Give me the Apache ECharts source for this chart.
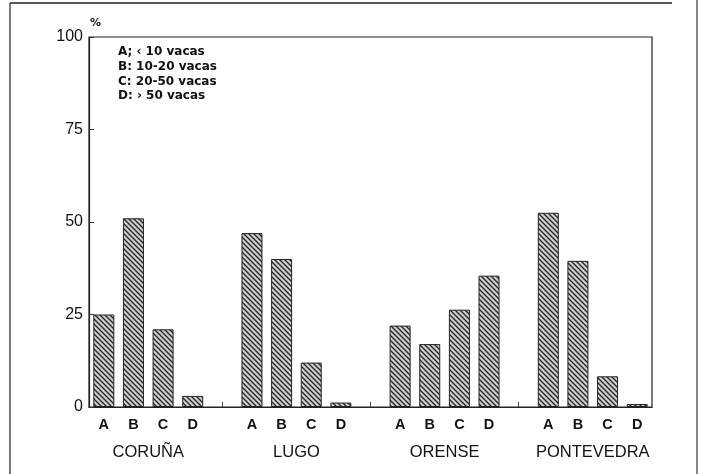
<!DOCTYPE html>
<html>
<head>
<meta charset="utf-8">
<script src="https://cdn.jsdelivr.net/npm/echarts@6/dist/echarts.min.js"></script>
<style>html,body{margin:0;padding:0;background:#fff;}#c{width:704px;height:474px;}</style>
</head>
<body>
<div id="c"></div>
<script>
// ---- data ----
var subCategories = ['A', 'B', 'C', 'D'];
var regions = ['CORUÑA', 'LUGO', 'ORENSE', 'PONTEVEDRA'];
var coruna = [25, 51, 21, 3];
var lugo = [47, 40, 12, 1.2];
var orense = [22, 17, 26.3, 35.5];
var pontevedra = [52.5, 39.5, 8.3, 0.8];
var yTicks = [0, 25, 50, 75, 100];
var legendLines = ['A; \u2039 10 vacas', 'B: 10-20 vacas', 'C: 20-50 vacas', 'D: \u203a 50 vacas'];

// ---- build axis data ----
var regionValues = [coruna, lugo, orense, pontevedra];
var cats = [], vals = [];
regionValues.forEach(function (arr, i) {
  arr.forEach(function (v, j) { cats.push(subCategories[j]); vals.push(v); });
  if (i < regionValues.length - 1) { cats.push(''); vals.push(null); }
});
// half-slot axis for region names (boundaryGap false, 2*n+1 points)
var regionAxis = [];
for (var k = 0; k < cats.length * 2 + 1; k++) regionAxis.push('');
regions.forEach(function (r, i) { regionAxis[4 + i * 10] = r; });

// hatch pattern
var pc = document.createElement('canvas');
pc.width = 5; pc.height = 5;
var ctx = pc.getContext('2d');
ctx.fillStyle = '#cfcfcf';
ctx.fillRect(0, 0, 5, 5);
ctx.strokeStyle = '#262626';
ctx.lineWidth = 1.35;
ctx.beginPath();
ctx.moveTo(-1, -1); ctx.lineTo(6, 6);
ctx.moveTo(-1, 4); ctx.lineTo(1, 6);
ctx.moveTo(4, -1); ctx.lineTo(6, 1);
ctx.stroke();

var chart = echarts.init(document.getElementById('c'), null, {renderer: 'canvas'});
var txt = '#111';
chart.setOption({
  animation: false,
  backgroundColor: '#fff',
  grid: {left: 89, right: 52, top: 37, bottom: 67, show: true, borderColor: '#222', borderWidth: 1.2, backgroundColor: 'transparent'},
  xAxis: [{
    type: 'category', data: cats, boundaryGap: true,
    axisLine: {show: true, lineStyle: {color: '#222', width: 1.2}},
    axisTick: {show: true, inside: true, length: 5, alignWithLabel: true,
      interval: function (idx, val) { return cats[idx] === ''; },
      lineStyle: {color: '#444'}},
    axisLabel: {interval: 0, margin: 10, color: txt, fontSize: 14.5, fontFamily: 'Liberation Sans', fontWeight: 'bold'}
  }, {
    type: 'category', data: regionAxis, boundaryGap: false, position: 'bottom',
    axisLine: {show: false}, axisTick: {show: false},
    axisLabel: {interval: 0, margin: 37, color: txt, fontSize: 16.5, fontFamily: 'Liberation Sans'}
  }],
  yAxis: {
    type: 'value', min: yTicks[0], max: yTicks[yTicks.length - 1], interval: 25,
    name: '%', nameLocation: 'end', nameGap: 8,
    nameTextStyle: {align: 'left', color: txt, fontSize: 11, fontWeight: 'bold', fontFamily: 'DejaVu Sans', padding: [0, 0, 0, 1]},
    splitLine: {show: false},
    axisLine: {show: true, lineStyle: {color: '#222', width: 1.2}},
    axisTick: {show: true, inside: true, length: 5, lineStyle: {color: '#333'}},
    axisLabel: {margin: 6, color: txt, fontSize: 16, fontFamily: 'Liberation Sans'}
  },
  series: [{
    type: 'bar', data: vals, barWidth: 21,
    itemStyle: {color: {image: pc, repeat: 'repeat'}, borderColor: '#222', borderWidth: 1}
  }],
  graphic: [
    {type: 'line', shape: {x1: 10, y1: 3, x2: 672, y2: 3}, style: {stroke: '#222', lineWidth: 1.5}, silent: true},
    {type: 'line', shape: {x1: 10, y1: 3, x2: 10, y2: 474}, style: {stroke: '#333', lineWidth: 1.3}, silent: true},
    {type: 'line', shape: {x1: 697, y1: 0, x2: 697, y2: 474}, style: {stroke: '#444', lineWidth: 1.3}, silent: true},
    {type: 'text', left: 118, top: 44.5, silent: true,
      style: {text: legendLines.join('\n'), fill: txt, font: 'bold 12px "DejaVu Sans"', lineHeight: 14.8}}
  ]
});
</script>
</body>
</html>
